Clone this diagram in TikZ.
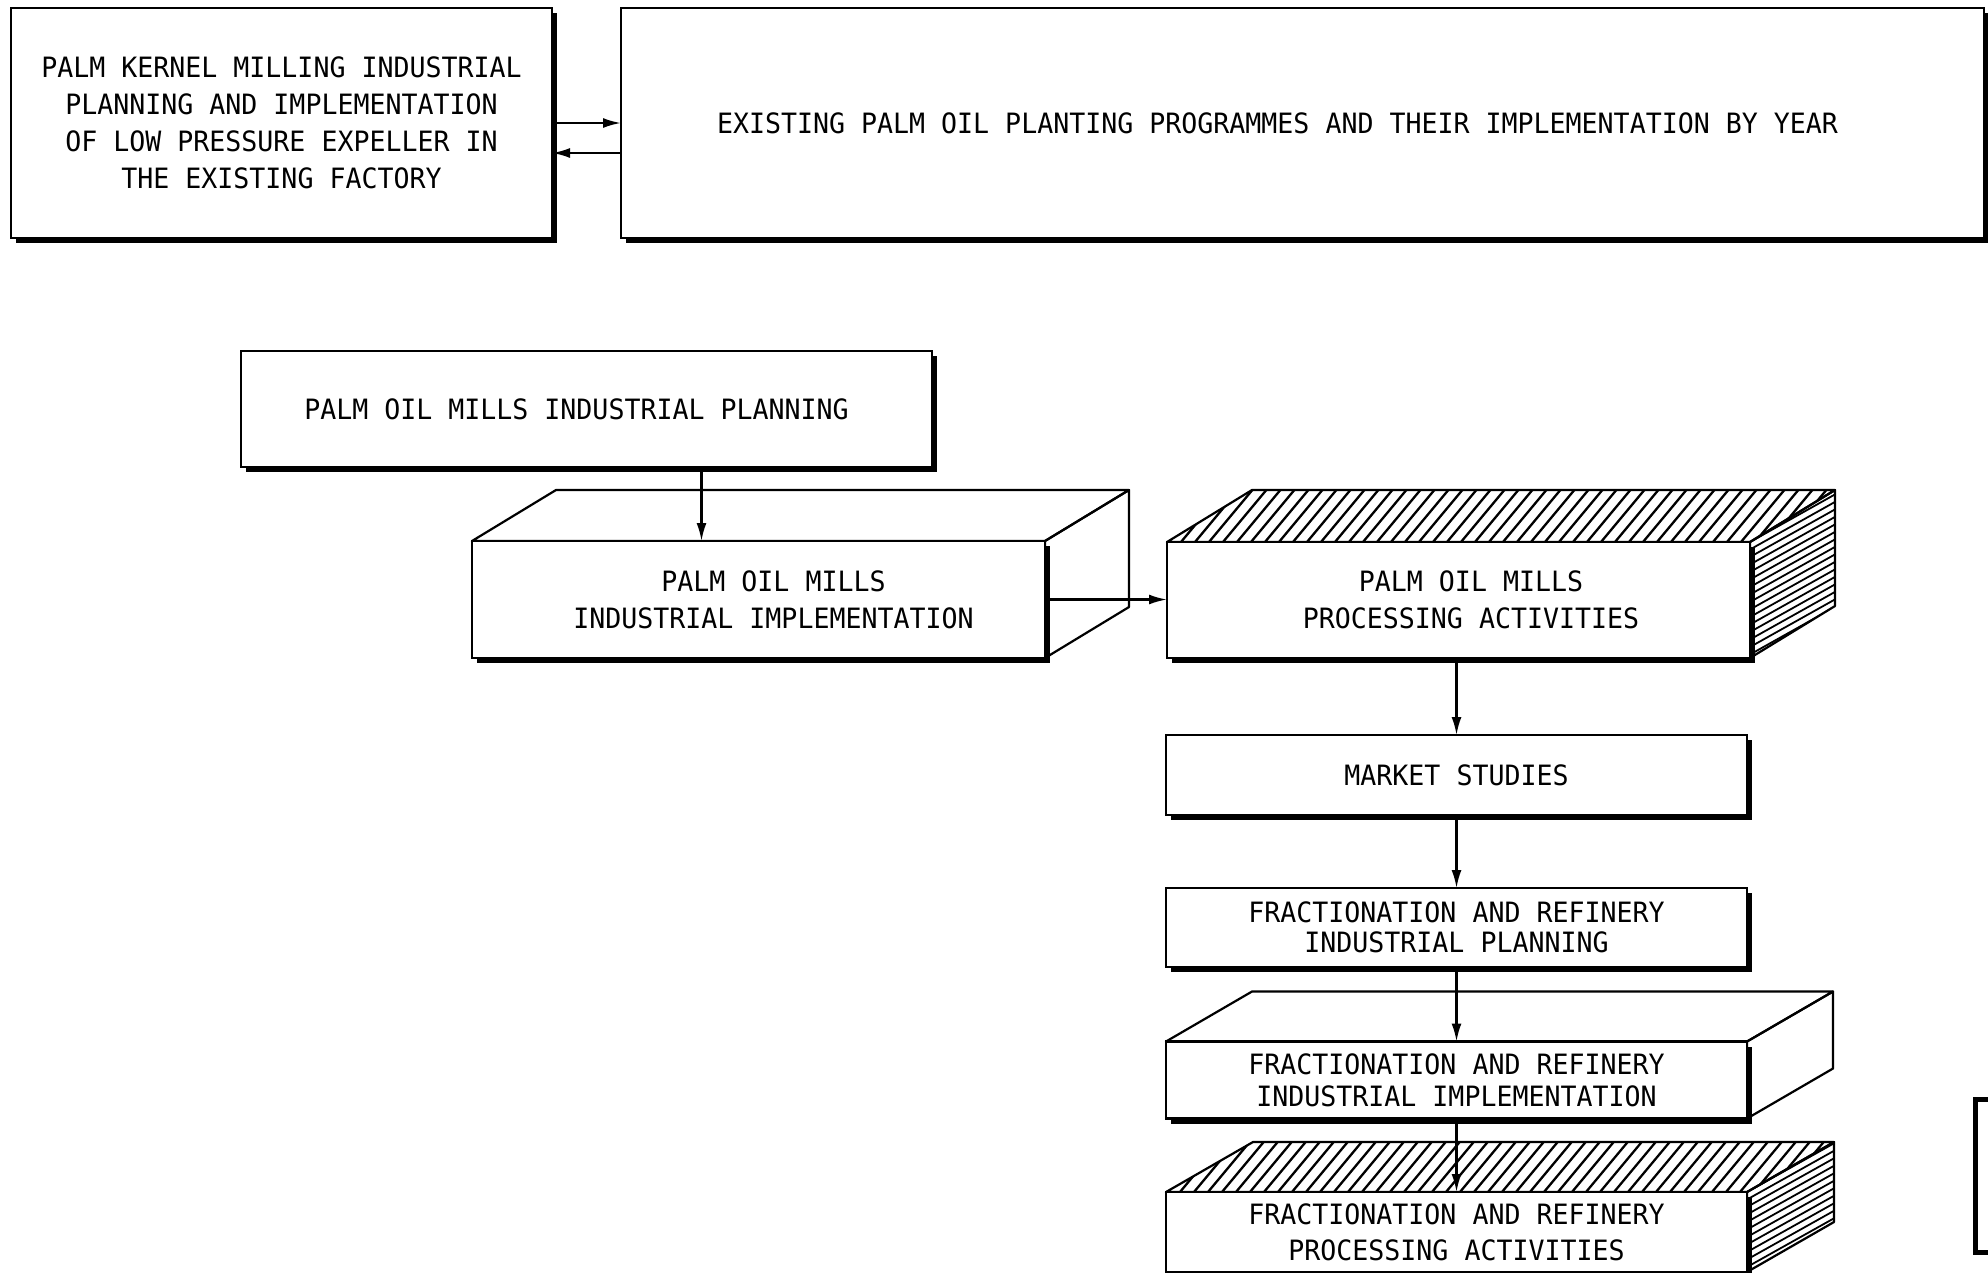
\documentclass[tikz,border=0pt]{standalone}
\usepackage{fontspec}
\setmainfont{DejaVu Sans Mono}[FakeStretch=0.95]
\usetikzlibrary{arrows.meta,shadows,calc,backgrounds}
\newcommand\cubeoutline[3]{%
    \draw[face] (#1.north west) -- ++(#2,-#3) -- ($(#1.north east)+(#2,-#3)$) -- (#1.north east) -- cycle;
    \draw[face] (#1.north east) -- ($(#1.north east)+(#2,-#3)$) -- ($(#1.south east)+(#2,-#3)$) -- (#1.south east) -- cycle;}
\newcommand\plaincube[3]{%
  \begin{pgfonlayer}{background}\cubeoutline{#1}{#2}{#3}\end{pgfonlayer}}
\newcommand\hatchcube[3]{%
  \begin{pgfonlayer}{background}
    \begin{scope}
      \clip (#1.north west) -- ++(#2,-#3) -- ($(#1.north east)+(#2,-#3)$) -- (#1.north east) -- cycle;
      \foreach \k in {-6,...,50} \draw[hlt] ($(#1.north west)+(\k*14,0)$) -- ++(50,-60);
    \end{scope}
    \begin{scope}
      \clip (#1.north east) -- ($(#1.north east)+(#2,-#3)$) -- ($(#1.south east)+(#2,-#3)$) -- (#1.south east) -- cycle;
      \foreach \k in {-10,...,20} \draw[hls] ($(#1.north east)+(0,\k*7.5)$) -- ++(100,-56);
    \end{scope}
    \cubeoutline{#1}{#2}{#3}
  \end{pgfonlayer}}
\begin{document}
\begin{tikzpicture}[x=1pt,y=-1pt,
  box/.style={draw, line width=2.5pt, fill=white, align=center, inner sep=0pt, outer sep=0pt,
    font=\fontsize{28}{37}\selectfont},
  shd/.style={drop shadow={shadow xshift=5pt,shadow yshift=-5pt,opacity=1,fill=black}},
  face/.style={draw, line width=2.2pt, line join=round},
  hlt/.style={line width=2.3pt},
  hls/.style={line width=1.8pt},
  arr/.style={line width=2.2pt, -{Latex[length=18pt,width=10pt]}}]
\useasboundingbox (0,0) rectangle (1988,1272);
\begin{pgfonlayer}{background}
\fill[white] (0,0) rectangle (1988,1272);
\end{pgfonlayer}
\clip (0,0) rectangle (1988,1272);

% top row
\node[box,shd,minimum width=541pt,minimum height=230pt] (pk) at (281.5,123)
  {PALM KERNEL MILLING INDUSTRIAL\\PLANNING AND IMPLEMENTATION\\OF LOW PRESSURE EXPELLER IN\\THE EXISTING FACTORY};
\node[box,shd,minimum width=1363pt,minimum height=230pt] (ep) at (1302.5,123)
  {EXISTING PALM OIL PLANTING PROGRAMMES AND THEIR IMPLEMENTATION BY YEAR\hspace*{50pt}};

% palm oil mills
\node[box,shd,minimum width=691pt,minimum height=116pt] (mp) at (586.5,409)
  {PALM OIL MILLS INDUSTRIAL PLANNING\hspace*{20pt}};
\node[box,shd,minimum width=573pt,minimum height=117pt] (mi) at (758.5,599.5)
  {\hspace*{30pt}PALM OIL MILLS\\\hspace*{30pt}INDUSTRIAL IMPLEMENTATION};
\plaincube{mi}{84}{51}
\node[box,shd,minimum width=583pt,minimum height=116pt] (pa) at (1458.5,600)
  {\hspace*{25pt}PALM OIL MILLS\\\hspace*{25pt}PROCESSING ACTIVITIES};
\hatchcube{pa}{85}{52}

% market and fractionation
\node[box,shd,minimum width=581pt,minimum height=80pt] (ms) at (1456.5,775)
  {MARKET STUDIES};
\node[box,shd,minimum width=581pt,minimum height=79pt,font=\fontsize{28}{30}\selectfont] (fp) at (1456.5,927.5)
  {FRACTIONATION AND REFINERY\\INDUSTRIAL PLANNING};
\node[box,shd,minimum width=581pt,minimum height=77pt,font=\fontsize{28}{32}\selectfont] (fi) at (1456.5,1080)
  {FRACTIONATION AND REFINERY\\INDUSTRIAL IMPLEMENTATION};
\plaincube{fi}{86}{50}
\node[box,shd,minimum width=581pt,minimum height=80pt,font=\fontsize{28}{36}\selectfont] (fa) at (1456.5,1232)
  {FRACTIONATION AND REFINERY\\PROCESSING ACTIVITIES};
\hatchcube{fa}{87}{50}

% partial box at the right edge
\node[draw,line width=5pt,minimum width=120pt,minimum height=153pt,anchor=north west,inner sep=0pt] (frag) at (1973,1097) {};

% connectors
\draw[arr] (pk.east) -- (pk.east -| ep.west);
\coordinate (lo) at ([yshift=-30pt]ep.west);
\draw[arr] (lo) -- (lo -| pk.east);
\draw[arr] ([xshift=115pt]mp.south) -- ([xshift=115pt]mp.south |- mi.north);
\draw[arr] (mi.east) -- (mi.east -| pa.west);
\draw[arr] (pa.south -| ms.north) -- (ms.north);
\draw[arr] (ms.south) -- (fp.north);
\draw[arr] (fp.south) -- (fi.north);
\draw[arr] (fi.south) -- (fa.north);
\end{tikzpicture}
\end{document}
